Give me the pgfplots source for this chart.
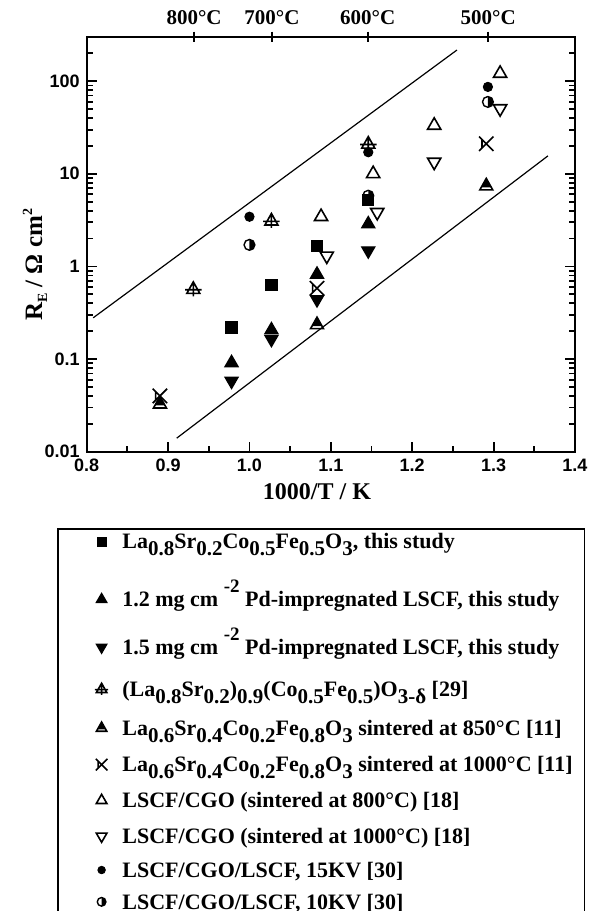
\documentclass[border=0pt]{standalone}
\usepackage{pgfplots}
\pgfplotsset{compat=1.18}
\usepackage{fontspec}
\setmainfont{Liberation Serif}
\newfontfamily\arial{Liberation Sans}

% sub/superscripts as in the figure, and struts to space legend rows
\newcommand\sub[1]{\raisebox{-3.5pt}{\fontsize{10.5}{10.5}\selectfont #1}}
\newcommand\sups[1]{\raisebox{7pt}{\fontsize{9.5}{9.5}\selectfont #1}}
\newcommand\rs[1]{\rule{0pt}{#1}}

% triangle with filled top and open base band
\pgfdeclareplotmark{halftri}{%
  \pgfpathmoveto{\pgfqpoint{0pt}{\pgfplotmarksize}}%
  \pgfpathlineto{\pgfqpoint{-0.703\pgfplotmarksize}{-0.25\pgfplotmarksize}}%
  \pgfpathlineto{\pgfqpoint{0.703\pgfplotmarksize}{-0.25\pgfplotmarksize}}%
  \pgfpathclose
  \pgfusepathqfill
  \pgfpathmoveto{\pgfqpoint{0pt}{\pgfplotmarksize}}%
  \pgfpathlineto{\pgfqpoint{-0.9\pgfplotmarksize}{-0.6\pgfplotmarksize}}%
  \pgfpathlineto{\pgfqpoint{0.9\pgfplotmarksize}{-0.6\pgfplotmarksize}}%
  \pgfpathclose
  \pgfusepathqstroke}
% open triangle crossed by a horizontal and a vertical stroke
\pgfdeclareplotmark{crosstri}{%
  \pgfpathmoveto{\pgfqpoint{0pt}{\pgfplotmarksize}}%
  \pgfpathlineto{\pgfqpoint{-0.9\pgfplotmarksize}{-0.6\pgfplotmarksize}}%
  \pgfpathlineto{\pgfqpoint{0.9\pgfplotmarksize}{-0.6\pgfplotmarksize}}%
  \pgfpathclose
  \pgfpathmoveto{\pgfqpoint{-1.15\pgfplotmarksize}{-0.1\pgfplotmarksize}}%
  \pgfpathlineto{\pgfqpoint{1.15\pgfplotmarksize}{-0.1\pgfplotmarksize}}%
  \pgfpathmoveto{\pgfqpoint{0pt}{\pgfplotmarksize}}%
  \pgfpathlineto{\pgfqpoint{0pt}{-1.0\pgfplotmarksize}}%
  \pgfusepathqstroke}
% cross with a bar on its left
\pgfdeclareplotmark{bowx}{%
  \pgfpathmoveto{\pgfqpoint{-\pgfplotmarksize}{-\pgfplotmarksize}}%
  \pgfpathlineto{\pgfqpoint{\pgfplotmarksize}{\pgfplotmarksize}}%
  \pgfpathmoveto{\pgfqpoint{-\pgfplotmarksize}{\pgfplotmarksize}}%
  \pgfpathlineto{\pgfqpoint{\pgfplotmarksize}{-\pgfplotmarksize}}%
  \pgfpathmoveto{\pgfqpoint{-0.6\pgfplotmarksize}{-0.6\pgfplotmarksize}}%
  \pgfpathlineto{\pgfqpoint{-0.6\pgfplotmarksize}{0.6\pgfplotmarksize}}%
  \pgfusepathqstroke}
% circle, right half filled
\pgfdeclareplotmark{halfcirc}{%
  \pgfpathmoveto{\pgfqpoint{0pt}{\pgfplotmarksize}}%
  \pgfpatharc{90}{-90}{\pgfplotmarksize}%
  \pgfpathclose
  \pgfusepathqfill
  \pgfpathcircle{\pgfpointorigin}{\pgfplotmarksize}%
  \pgfusepathqstroke}

\pgfplotsset{
  leg/.style={only marks, legend image code/.code={%
    \path (0pt,0pt) (25.5pt,0pt);
    \draw[##1, /tikz/every mark/.append style={scale=0.8}] plot coordinates {(17.5pt,3.6pt)};}},
}

\begin{document}
\begin{tikzpicture}
\useasboundingbox (0,0) rectangle (301pt,455.5pt);
\begin{axis}[
  at={(43.35pt,229.65pt)}, anchor=south west,
  scale only axis, width=244.15pt, height=207.5pt,
  xmin=0.8, xmax=1.4, ymode=log, ymin=0.01, ymax=302,
  xtick={0.8,0.9,1.0,1.1,1.2,1.3,1.4},
  xticklabels={0.8,0.9,1.0,1.1,1.2,1.3,1.4},
  minor xtick={0.85,0.95,1.05,1.15,1.25,1.35},
  ytick={0.01,0.1,1,10,100}, yticklabels={0.01,0.1,1,10,100},
  minor ytick={0.02,0.03,0.04,0.05,0.06,0.07,0.08,0.09,
    0.2,0.3,0.4,0.5,0.6,0.7,0.8,0.9,2,3,4,5,6,7,8,9,
    20,30,40,50,60,70,80,90,200,300},
  xtick pos=left, ytick pos=both, tick align=inside,
  major tick length=5pt, minor tick length=3pt,
  tick style={black, line width=0.9pt},
  axis line style={line width=1pt},
  tick label style={font=\arial\bfseries\fontsize{9}{10}\selectfont},
  xlabel={1000/T / K},
  xlabel style={font=\bfseries\fontsize{12}{14}\selectfont,
    at={(axis description cs:0.4716,-0.0964)}, anchor=center},
  ylabel={R\raisebox{-2.5pt}{\fontsize{7}{7}\selectfont E} / Ω cm\raisebox{5pt}{\fontsize{7}{7}\selectfont 2}},
  ylabel style={font=\bfseries\fontsize{12.5}{14}\selectfont,
    at={(axis description cs:-0.106,0.45)}, anchor=center},
  legend style={at={(axis description cs:-0.0608,-0.1839)}, anchor=north west,
    draw=black, line width=0.8pt, inner xsep=4pt, inner ysep=2pt,
    row sep=0pt, column sep=0pt,
    font=\bfseries\fontsize{11}{12}\selectfont,
    nodes={inner xsep=2pt, inner ysep=0pt, text depth=0pt}, cells={anchor=base west}},
]
\addplot[forget plot, line width=0.6pt] coordinates {(0.808,0.279) (1.255,217)};
\addplot[forget plot, line width=0.6pt] coordinates {(0.9106,0.014) (1.3667,15.6)};

\addplot[leg, mark=square*, mark size=2.8pt, mark options={fill=black, line width=0.6pt}]
  coordinates {(0.978,0.22) (1.027,0.63) (1.083,1.67) (1.146,5.2)};
\addlegendentry{\rs{8pt}La\sub{0.8}Sr\sub{0.2}Co\sub{0.5}Fe\sub{0.5}O\sub{3}, this study}
\addplot[leg, mark=triangle*, mark size=3.8pt, mark options={fill=black, line width=0.6pt}]
  coordinates {(0.978,0.091) (1.027,0.206) (1.083,0.82) (1.146,2.87)};
\addlegendentry{\rs{28.5pt}1.2 mg cm \sups{-2} Pd-impregnated LSCF, this study}
\addplot[leg, mark=triangle*, mark size=3.8pt, mark options={fill=black, rotate=180, line width=0.6pt}]
  coordinates {(0.978,0.058) (1.027,0.164) (1.083,0.44) (1.146,1.48)};
\addlegendentry{\rs{23.5pt}1.5 mg cm \sups{-2} Pd-impregnated LSCF, this study}
\addplot[leg, mark=crosstri, mark size=3.6pt, mark options={line width=0.8pt}]
  coordinates {(0.931,0.57) (1.027,3.12) (1.146,21.1)};
\addlegendentry{\rs{20.5pt}(La\sub{0.8}Sr\sub{0.2})\sub{0.9}(Co\sub{0.5}Fe\sub{0.5})O\sub{3-δ} [29]}
\addplot[leg, mark=halftri, mark size=3.6pt, mark options={fill=black, line width=0.8pt}]
  coordinates {(0.890,0.033) (1.083,0.237) (1.291,7.46)};
\addlegendentry{\rs{19pt}La\sub{0.6}Sr\sub{0.4}Co\sub{0.2}Fe\sub{0.8}O\sub{3} sintered at 850°C [11]}
\addplot[leg, mark=bowx, mark size=3.6pt, mark options={line width=0.8pt}]
  coordinates {(0.890,0.040) (1.083,0.58) (1.291,21.1)};
\addlegendentry{\rs{18pt}La\sub{0.6}Sr\sub{0.4}Co\sub{0.2}Fe\sub{0.8}O\sub{3} sintered at 1000°C [11]}
\addplot[leg, mark=triangle, mark size=3.8pt, mark options={line width=0.8pt}]
  coordinates {(1.088,3.44) (1.152,10) (1.227,33.3) (1.308,121)};
\addlegendentry{\rs{17.5pt}LSCF/CGO (sintered at 800°C) [18]}
\addplot[leg, mark=triangle, mark size=3.8pt, mark options={rotate=180, line width=0.8pt}]
  coordinates {(1.095,1.30) (1.157,3.84) (1.227,13.4) (1.308,50.6)};
\addlegendentry{\rs{17.5pt}LSCF/CGO (sintered at 1000°C) [18]}
\addplot[leg, mark=*, mark size=2.3pt, mark options={fill=black, line width=0.5pt}]
  coordinates {(1.0,3.44) (1.146,17.1) (1.293,86.7)};
\addlegendentry{\rs{16.5pt}LSCF/CGO/LSCF, 15KV [30]}
\addplot[leg, mark=halfcirc, mark size=2.7pt, mark options={fill=black, line width=0.7pt}]
  coordinates {(1.0,1.71) (1.146,5.8) (1.293,59.7)};
\addlegendentry{\rs{15.5pt}LSCF/CGO/LSCF, 10KV [30]}
% spacer row so the box runs past the lower edge, as in the figure
\addlegendimage{empty legend}
\addlegendentry{\rs{12pt}}
\end{axis}

\begin{axis}[
  at={(43.35pt,229.65pt)}, anchor=south west,
  scale only axis, width=244.15pt, height=207.5pt,
  xmin=0.8, xmax=1.4, ymode=log, ymin=0.01, ymax=302,
  axis x line*=top, hide y axis,
  xtick={0.9319,1.0276,1.1453,1.2934},
  xticklabels={800°C,700°C,600°C,500°C},
  minor xtick={}, tick align=center, major tick length=5pt,
  tick style={black, line width=0.9pt},
  axis line style={line width=1pt},
  xticklabel style={font=\bfseries\fontsize{10.5}{12}\selectfont},
]
\end{axis}
\end{tikzpicture}
\end{document}
